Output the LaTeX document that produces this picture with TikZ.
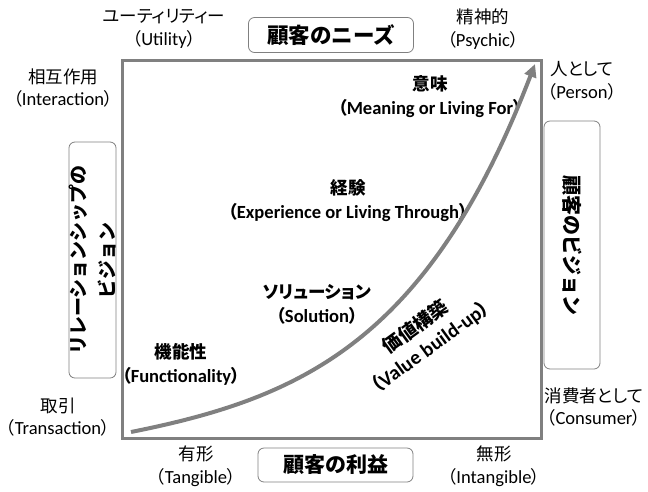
\documentclass[tikz,border=0pt]{standalone}
\usepackage{fontspec}
\setmainfont{Carlito}[Scale=1.06]
\newfontfamily\jpf[RawFeature=+palt]{Noto Sans CJK JP}
\newfontfamily\jpw{Noto Sans CJK JP}
\usetikzlibrary{arrows.meta}
\definecolor{framegray}{HTML}{808080}
\newcommand\JPL{{\jpf （}}
\newcommand\JPR{{\jpf ）}}
\begin{document}
\begin{tikzpicture}[x=1pt,y=-1pt,
  lbl/.style={align=center, inner sep=0pt, font=\fontsize{17.5}{22.5}\selectfont},
  blbl/.style={align=center, inner sep=0pt, font=\fontsize{17.5}{24}\selectfont\bfseries},
  rbox/.style={draw=framegray, line width=0.8pt, rounded corners=6pt, inner sep=0pt, align=center,
    font=\fontsize{21}{29}\selectfont\bfseries\jpw}]
\useasboundingbox (0,0) rectangle (648,491);
% main frame
\node[draw=framegray, line width=3pt, minimum width=419pt, minimum height=378pt, inner sep=0pt] (frame) at (331.5,249) {};
% boxes
\node[rbox, minimum width=165pt, minimum height=35pt, font=\fontsize{21.5}{29}\selectfont\bfseries\jpw] (needs) at (331,35) {顧客のニーズ};
\node[rbox, minimum width=155pt, minimum height=34pt] (benefit) at (335.5,465) {顧客の利益};
\node[rbox, rotate=90, minimum width=236pt, minimum height=47pt, font=\fontsize{19}{29}\selectfont\bfseries\jpw] (relvision) at (92.5,260) {リレーションシップの\\ビジョン};
\node[rbox, rotate=-90, minimum width=248pt, minimum height=56pt, font=\fontsize{20}{29}\selectfont\bfseries\jpw] (custvision) at (572,245) {顧客のビジョン};
% outer labels
\node[lbl] (utility) at (164,29) {{\jpf ユーティリティー}\\\JPL Utility\JPR};
\node[lbl] (psychic) at (483,29) {{\jpf 精神的}\\\JPL Psychic\JPR};
\node[lbl] (interaction) at (63,88) {{\jpf 相互作用}\\\JPL Interaction\JPR};
\node[lbl] (person) at (582,81) {{\jpf 人として}\\\JPL Person\JPR};
\node[lbl] (transaction) at (58,417) {{\jpf 取引}\\\JPL Transaction\JPR};
\node[lbl] (consumer) at (594,407) {{\jpf 消費者として}\\\JPL Consumer\JPR};
\node[lbl] (tangible) at (196,466) {{\jpf 有形}\\\JPL Tangible\JPR};
\node[lbl] (intangible) at (494,466) {{\jpf 無形}\\\JPL Intangible\JPR};
% inner labels
\node[blbl] (meaning) at (430,97) {{\jpf 意味}\\\JPL Meaning or Living For\JPR};
\node[blbl] (experience) at (348,201) {{\jpf 経験}\\\JPL Experience or Living Through\JPR};
\node[blbl] (solution) at (317,304) {{\jpf ソリューション}\\\JPL Solution\JPR};
\node[blbl] (functionality) at (181,364) {{\jpf 機能性}\\\JPL Functionality\JPR};
\node[blbl, rotate=36, font=\fontsize{19}{25}\selectfont\bfseries] (valuebuild) at (423,337) {{\jpf 価値構築}\\\JPL Value build-up\JPR};
% curve
\coordinate (cstart) at (131,432);
\coordinate (cend) at (535,64);
\draw[framegray, line width=4pt, -{Triangle[length=13pt,width=12pt]}]
  (cstart) .. controls (301,398) and (428,342) .. (cend);
\end{tikzpicture}
\end{document}
